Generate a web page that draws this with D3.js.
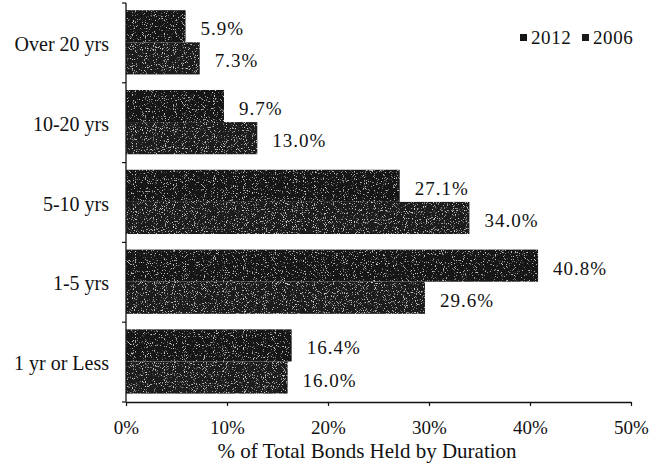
<!DOCTYPE html>
<html>
<head>
<meta charset="utf-8">
<script src="https://cdn.jsdelivr.net/npm/d3@7"></script>
<style>
  html, body { margin: 0; padding: 0; background: #fff; }
  svg { display: block; }
  text { font-family: "Liberation Serif", "Times New Roman", serif; fill: #111; }
</style>
</head>
<body>
<svg id="chart" width="663" height="472"></svg>
<script>
// Share of total bonds held, by duration bucket
const categories = ["Over 20 yrs", "10-20 yrs", "5-10 yrs", "1-5 yrs", "1 yr or Less"];
const seriesNames = ["2012", "2006"];
const values2012 = [5.9, 9.7, 27.1, 40.8, 16.4];
const values2006 = [7.3, 13.0, 34.0, 29.6, 16.0];
const xTicks = [0, 10, 20, 30, 40, 50];
const xTitle = "% of Total Bonds Held by Duration";

const seriesValues = { "2012": values2012, "2006": values2006 };
const rows = categories.map((c, i) => ({
  category: c,
  values: seriesNames.map(s => ({ series: s, value: seriesValues[s][i] }))
}));

const svg = d3.select("#chart");
const margin = { left: 126, right: 32, top: 3, bottom: 70 };
const W = 663, H = 472;

const x = d3.scaleLinear().domain([0, 50]).range([margin.left, W - margin.right]);
const y = d3.scaleBand().domain(categories).range([margin.top, H - margin.bottom]).padding(0);
const ySub = d3.scaleBand().domain(seriesNames)
  .range([y.bandwidth() * 0.09, y.bandwidth() * 0.895]).padding(0);

// Speckled print texture for the bars
const defs = svg.append("defs");
function grain(id, seed, threshold, grey) {
  const f = defs.append("filter").attr("id", id)
    .attr("x", 0).attr("y", 0).attr("width", 1).attr("height", 1);
  f.append("feTurbulence").attr("type", "fractalNoise")
    .attr("baseFrequency", 0.9).attr("numOctaves", 2).attr("seed", seed).attr("result", "noise");
  f.append("feColorMatrix").attr("in", "noise").attr("type", "matrix")
    .attr("values", `0 0 0 0 ${grey}  0 0 0 0 ${grey}  0 0 0 0 ${grey}  7 0 0 0 ${-threshold}`)
    .attr("result", "dots");
  f.append("feComposite").attr("in", "dots").attr("in2", "SourceGraphic")
    .attr("operator", "in").attr("result", "clipped");
  const m = f.append("feMerge");
  m.append("feMergeNode").attr("in", "SourceGraphic");
  m.append("feMergeNode").attr("in", "clipped");
}
grain("grain2012", 4, 4.35, 0.6);
grain("grain2006", 9, 4.25, 0.62);
const barFill = { "2012": "#151515", "2006": "#1a1a1a" };

// Bars
const groups = svg.append("g").selectAll("g")
  .data(rows).join("g")
  .attr("transform", d => `translate(0,${y(d.category)})`);

groups.selectAll("rect")
  .data(d => d.values).join("rect")
  .attr("x", x(0))
  .attr("y", d => ySub(d.series))
  .attr("width", d => x(d.value) - x(0))
  .attr("height", ySub.bandwidth())
  .attr("fill", d => barFill[d.series])
  .attr("filter", d => `url(#grain${d.series})`);

// Value labels
groups.selectAll("text.val")
  .data(d => d.values).join("text")
  .attr("class", "val")
  .attr("x", d => x(d.value) + 15)
  .attr("y", d => ySub(d.series) + ySub.bandwidth() / 2 + 9)
  .attr("font-size", 19)
  .attr("letter-spacing", 1)
  .text(d => d.value.toFixed(1) + "%");

// X axis
const xAxis = d3.axisBottom(x)
  .tickValues(xTicks)
  .tickFormat(d => d + "%")
  .tickSize(4)
  .tickSizeOuter(0);
const gx = svg.append("g")
  .attr("transform", `translate(0,${H - margin.bottom})`)
  .call(xAxis);
gx.select(".domain").attr("stroke", "#111").attr("stroke-width", 1.3);
gx.selectAll(".tick line").attr("stroke", "#111").attr("stroke-width", 1.2);
gx.selectAll(".tick text")
  .attr("font-family", "Liberation Serif, serif")
  .attr("font-size", 19)
  .attr("fill", "#111")
  .attr("dy", 0)
  .attr("y", 32);

// Y axis: line with ticks at band boundaries
const gy = svg.append("g");
gy.append("line")
  .attr("x1", x(0)).attr("x2", x(0))
  .attr("y1", y.range()[0]).attr("y2", y.range()[1])
  .attr("stroke", "#111").attr("stroke-width", 1.3);
const boundaries = categories.map(c => y(c)).concat([y.range()[1]]);
gy.selectAll("line.tk")
  .data(boundaries).join("line")
  .attr("class", "tk")
  .attr("x1", x(0) - 4).attr("x2", x(0))
  .attr("y1", d => d).attr("y2", d => d)
  .attr("stroke", "#111").attr("stroke-width", 1.2);

// Category labels
gy.selectAll("text")
  .data(categories).join("text")
  .attr("x", 109)
  .attr("y", d => y(d) + y.bandwidth() / 2)
  .attr("dy", "0.4em")
  .attr("text-anchor", "end")
  .attr("font-size", 20)
  .text(d => d);

// Axis title
svg.append("text")
  .attr("x", 367).attr("y", 458)
  .attr("text-anchor", "middle")
  .attr("font-size", 21)
  .text(xTitle);

// Legend
const legend = svg.append("g").attr("transform", "translate(520,34)");
const legendItems = legend.selectAll("g")
  .data(seriesNames).join("g")
  .attr("transform", (d, i) => `translate(${i * 62},0)`);
legendItems.append("rect")
  .attr("width", 7).attr("height", 7)
  .attr("fill", d => barFill[d]);
legendItems.append("text")
  .attr("x", 11).attr("y", 9.5)
  .attr("font-size", 19)
  .attr("letter-spacing", 0.6)
  .text(d => d);
</script>
</body>
</html>
